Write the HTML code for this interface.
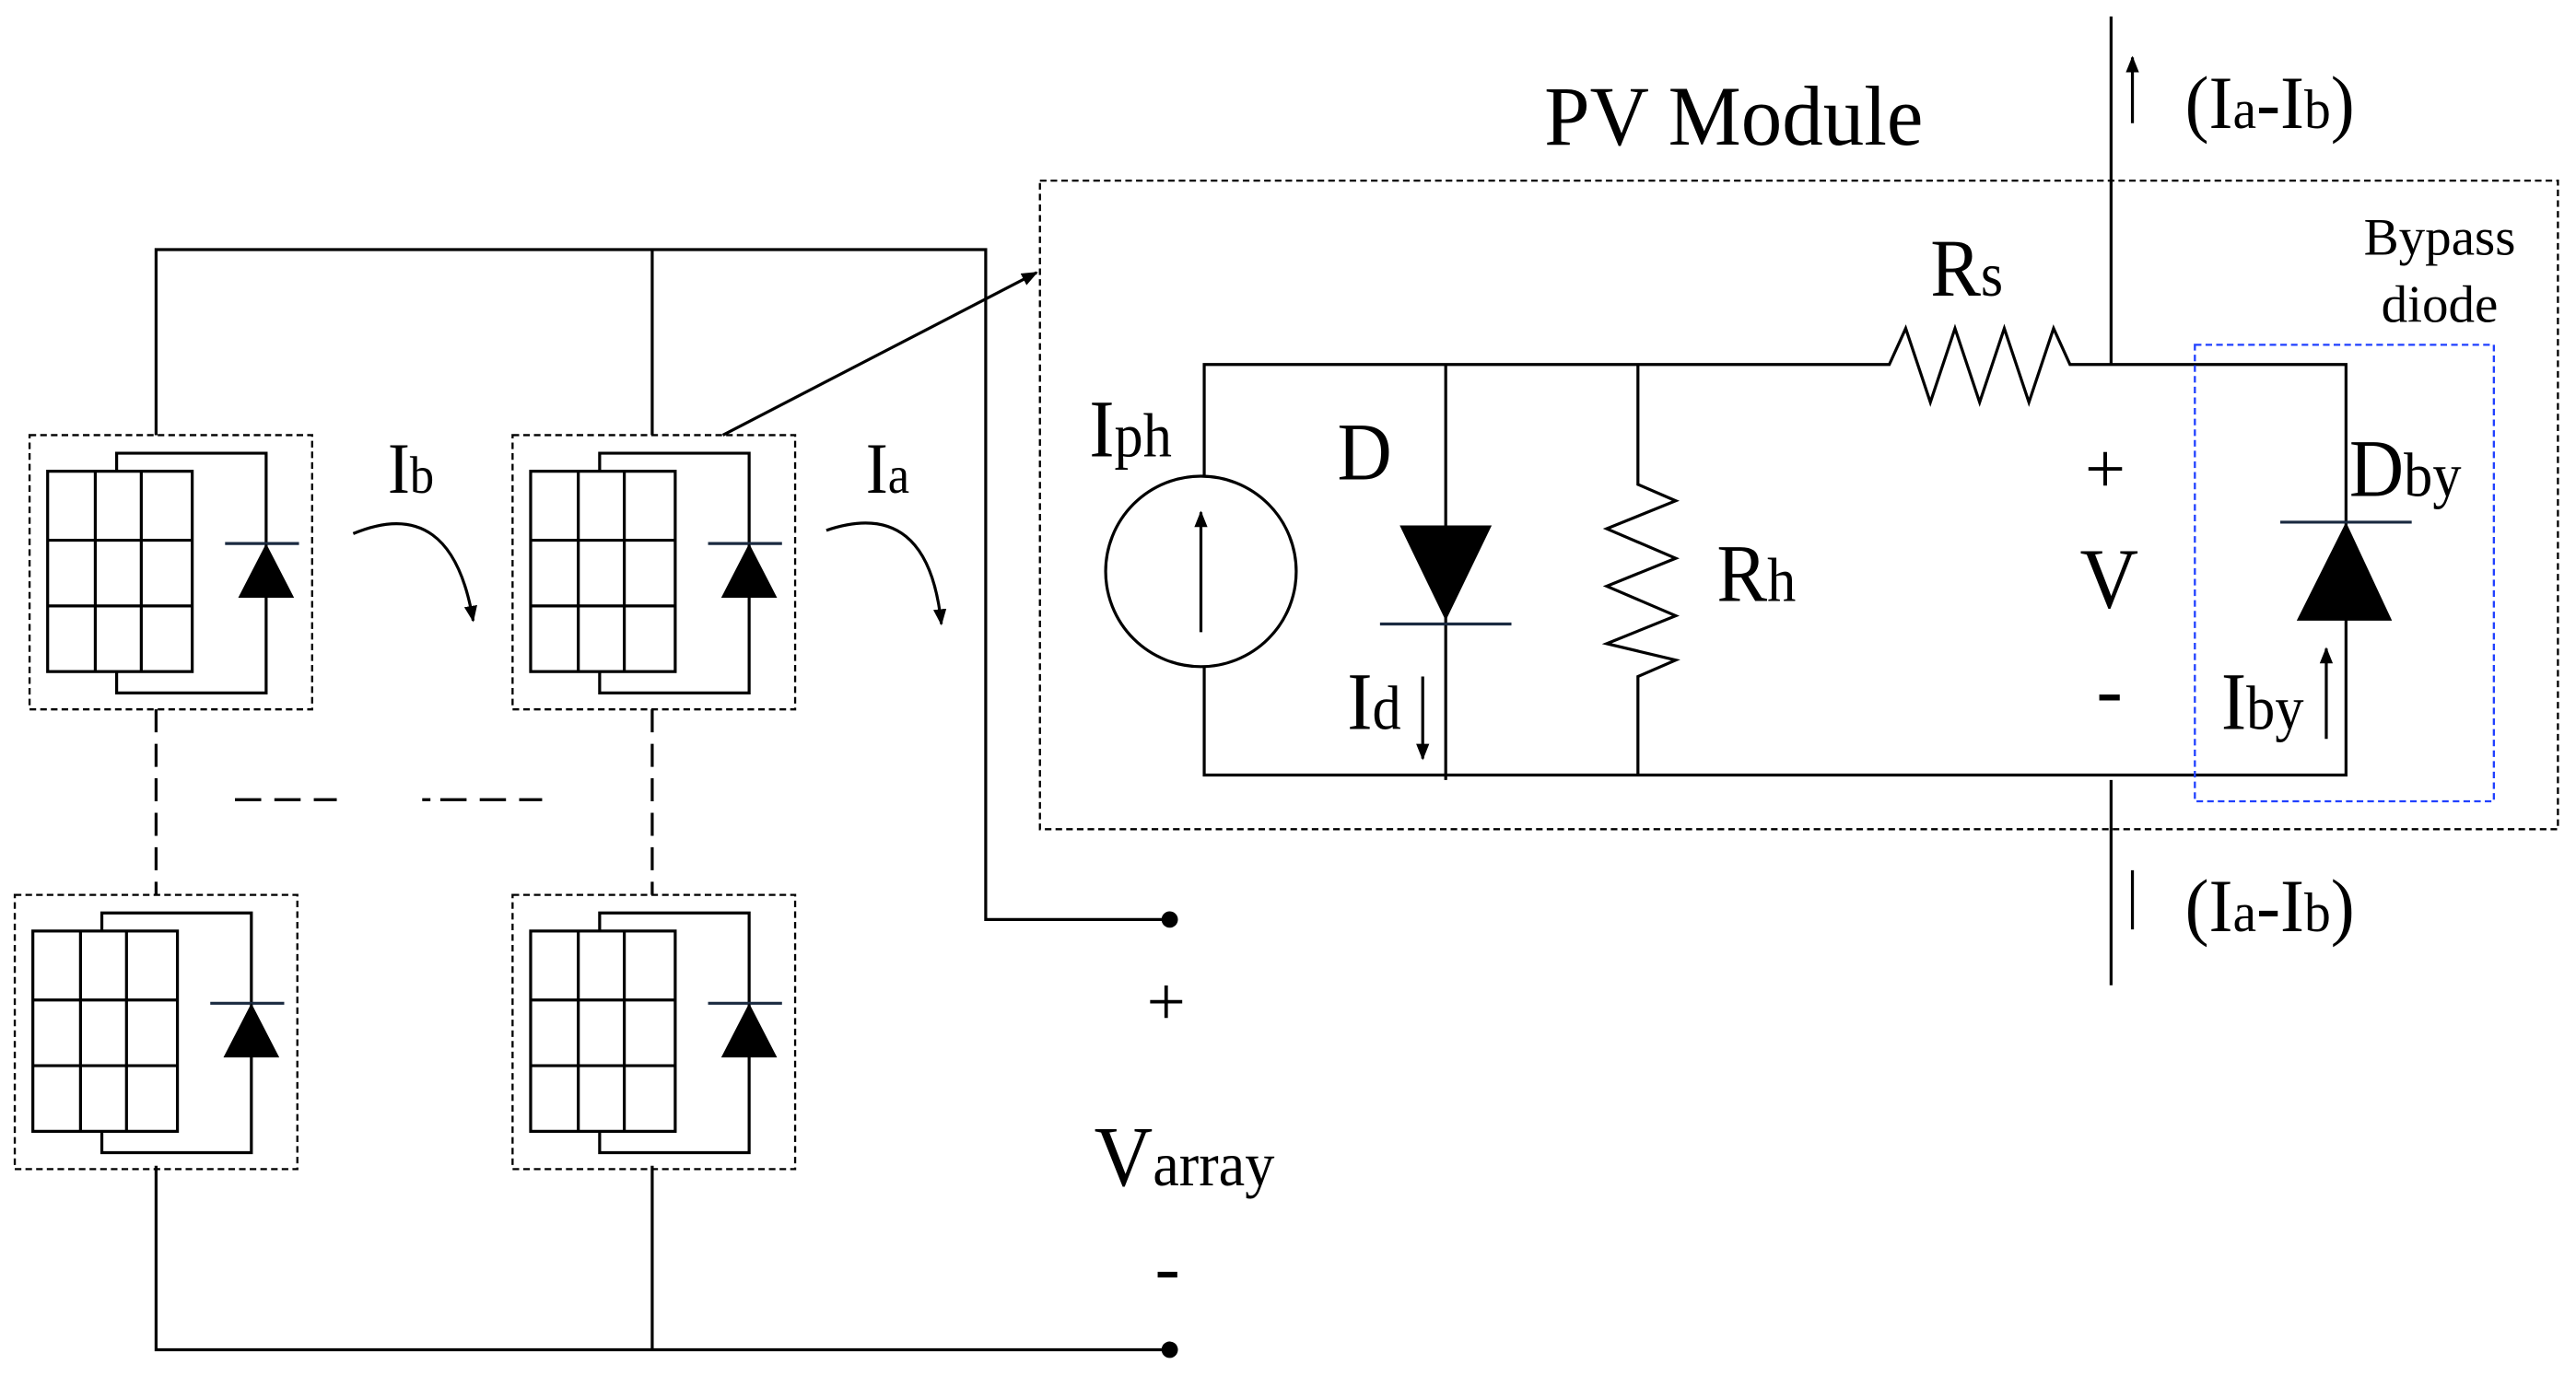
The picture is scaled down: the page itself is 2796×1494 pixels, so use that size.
<!DOCTYPE html>
<html><head><style>html,body{margin:0;padding:0;background:#fff}svg{display:block}text{font-family:"Liberation Serif",serif;fill:#000}</style></head>
<body>
<svg width="2796" height="1494" viewBox="0 0 1568 838" preserveAspectRatio="none" xmlns="http://www.w3.org/2000/svg">
<defs>
<g id="mod">
<rect x="0" y="0" width="172" height="167" fill="none" stroke="#000" stroke-width="1.3" stroke-dasharray="4,2.5"/>
<path d="M53 22 V11 H144 V157 H53 V144" fill="none" stroke="#000" stroke-width="1.8"/>
<rect x="11" y="22" width="88" height="122" fill="#fff" stroke="#000" stroke-width="1.8"/>
<path d="M40 22V144M68 22V144M11 64H99M11 104H99" stroke="#000" stroke-width="1.8"/>
<line x1="119" y1="66" x2="164" y2="66" stroke="#1a2a40" stroke-width="1.8"/>
<polygon points="144,66 127,99 161,99" fill="#000"/>
</g>
<marker id="ah" markerWidth="10" markerHeight="10" refX="9" refY="5" orient="auto" markerUnits="userSpaceOnUse"><path d="M0,1 L10,5 L0,9z" fill="#000"/></marker>
</defs>
<g stroke="#000" stroke-width="1.8" fill="none">
<path d="M95 265V152H600V560H712"/>
<path d="M397 152V265"/>
<path d="M95 710V822H712M397 710V822"/>
<path d="M95 432V545M397 432V545" stroke-dasharray="14,7"/>
<path d="M143 487H205" stroke-dasharray="16,8"/>
<path d="M257 487H262M268 487H330" stroke-dasharray="16,8"/>
<path d="M440 265L631 166" marker-end="url(#ah)"/>
<path d="M215 325 Q275 300 288 378" marker-end="url(#ah)"/>
<path d="M503 323 Q565 302 573 380" marker-end="url(#ah)"/>
</g>
<circle cx="712" cy="560" r="5" fill="#000"/><circle cx="712" cy="822" r="5" fill="#000"/>
<use href="#mod" x="18" y="265"/><use href="#mod" x="312" y="265"/>
<use href="#mod" x="9" y="545"/><use href="#mod" x="312" y="545"/>
<g transform="translate(236,300) scale(0.92,1)"><text font-size="44">I<tspan font-size="32">b</tspan></text></g>
<g transform="translate(527,300) scale(0.92,1)"><text font-size="44">I<tspan font-size="32">a</tspan></text></g>
<text x="698" y="624" font-size="42">+</text>
<g transform="translate(666,722) scale(0.95,1)"><text font-size="52">V<tspan font-size="38">array</tspan></text></g>
<text x="703" y="787" font-size="46">-</text>
<!-- PV module -->
<rect x="633" y="110" width="924" height="395" fill="none" stroke="#000" stroke-width="1.3" stroke-dasharray="4,2.5"/>
<g transform="translate(940,88) scale(0.96,1)"><text font-size="52">PV Module</text></g>
<g stroke="#000" stroke-width="1.8" fill="none">
<path d="M1285 10V222M1285 475V600"/>
<path d="M1298 75V35" marker-end="url(#ah)"/>
<path d="M1298 530V566"/>
<path d="M733 290V222H1145L1150 222 1160 200 1175 245 1190 200 1205 245 1220 200 1235 245 1250 200 1260 222H1428V472H733V406"/>
<circle cx="731" cy="348" r="58"/>
<path d="M731 385V312" marker-end="url(#ah)"/>
<path d="M880 222V475"/>
<path d="M997 222V295L1020 305 978 322 1020 340 978 357 1020 375 978 392 1020 402 997 412V472"/>
<path d="M866 412V462" marker-end="url(#ah)"/>
<path d="M1416 450V395" marker-end="url(#ah)"/>
</g>
<polygon points="852,320 908,320 880,378" fill="#000"/>
<line x1="840" y1="380" x2="920" y2="380" stroke="#1a2a40" stroke-width="1.8"/>
<polygon points="1428,318 1398,378 1456,378" fill="#000"/>
<line x1="1388" y1="318" x2="1468" y2="318" stroke="#1a2a40" stroke-width="1.8"/>
<rect x="1336" y="210" width="182" height="278" fill="none" stroke="#2040ff" stroke-width="1.3" stroke-dasharray="4,2.5"/>
<g transform="translate(1330,78) scale(0.95,1)"><text font-size="46">(I<tspan font-size="34">a</tspan>-I<tspan font-size="34">b</tspan>)</text></g>
<g transform="translate(1330,567) scale(0.95,1)"><text font-size="46">(I<tspan font-size="34">a</tspan>-I<tspan font-size="34">b</tspan>)</text></g>
<g transform="translate(663,278) scale(0.92,1)"><text font-size="50">I<tspan font-size="38">ph</tspan></text></g>
<g transform="translate(814,292) scale(0.92,1)"><text font-size="50">D</text></g>
<g transform="translate(820,444) scale(0.92,1)"><text font-size="50">I<tspan font-size="38">d</tspan></text></g>
<g transform="translate(1045,366) scale(0.92,1)"><text font-size="50">R<tspan font-size="38">h</tspan></text></g>
<g transform="translate(1175,180) scale(0.92,1)"><text font-size="50">R<tspan font-size="38">s</tspan></text></g>
<text x="1269" y="300" font-size="44">+</text>
<g transform="translate(1266,370) scale(0.95,1)"><text font-size="52">V</text></g>
<text x="1276" y="436" font-size="48">-</text>
<g transform="translate(1430,302) scale(0.92,1)"><text font-size="50">D<tspan font-size="38">by</tspan></text></g>
<g transform="translate(1352,444) scale(0.92,1)"><text font-size="50">I<tspan font-size="38">by</tspan></text></g>
<g transform="translate(1485,155) scale(1,1)"><text font-size="32" text-anchor="middle">Bypass</text></g>
<g transform="translate(1485,196) scale(1,1)"><text font-size="32" text-anchor="middle">diode</text></g>
</svg>
</body></html>
